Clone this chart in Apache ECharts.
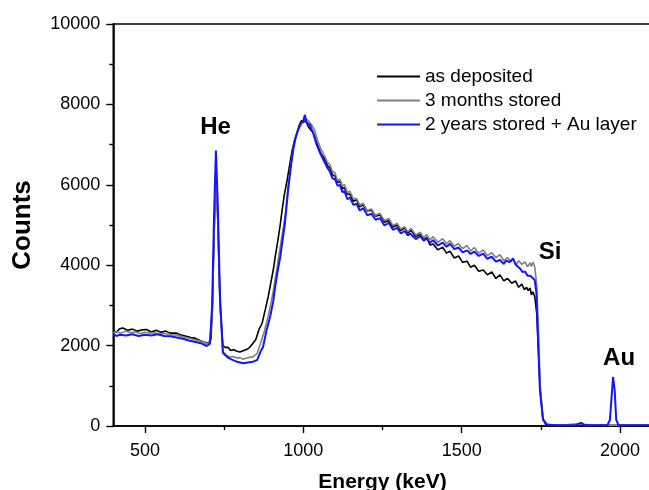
<!DOCTYPE html>
<html><head><meta charset="utf-8">
<script src="https://cdn.jsdelivr.net/npm/echarts@6/dist/echarts.min.js"></script>
<style>html,body{margin:0;padding:0;background:#fff}#c{width:649px;height:490px}</style>
</head><body><div id="c"></div>
<script>
// ---- data ----
const seriesNames = ['as deposited', '3 months stored', '2 years stored + Au layer'];
const xMajorTicks = [500, 1000, 1500, 2000];
const xMinorTicks = [750, 1250, 1750];

const blackE = [400,410,420,430,445,460,475,490,505,520,535,550,565,580,600,615,630,645,660,675,690,700,708,713,718,724,730,737,746,755,762,770,780,790,800,810,820,830,841,850,860,870,880,889,897,905,912,920,927,933,940,949,957,965,972,980,988,995,1000,1008,1015,1025,1031,1042,1053,1060,1068,1076,1084,1092,1100,1108,1116,1123,1130,1139,1147,1158,1168,1178,1189,1202,1215,1228,1242,1256,1270,1283,1296,1308,1320,1330,1340,1355,1369,1380,1390,1400,1410,1425,1440,1452,1463,1477,1490,1503,1517,1528,1540,1554,1568,1581,1595,1608,1621,1633,1645,1658,1670,1680,1690,1698,1705,1710,1716,1720,1725,1731,1737,1742,1748,1756,1765,1800,1870,1877,1885,1900,2100];
const blackC = [2380,2330,2420,2440,2380,2410,2360,2390,2400,2340,2380,2330,2360,2310,2310,2260,2230,2200,2180,2120,2080,2060,2150,2900,4700,6300,5100,3000,2000,1950,1960,1880,1900,1860,1840,1870,1900,1950,2060,2150,2400,2560,2900,3210,3550,3880,4250,4630,5000,5370,5750,6120,6500,6870,7100,7290,7500,7600,7550,7600,7450,7350,7300,7050,6820,6720,6640,6480,
  6420,6250,6220,6060,6080,5900,5930,5760,5770,5590,5630,5450,5500,5350,5370,5220,5250,5070,5110,4950,5000,4860,4930,4800,4870,4710,4770,4630,4690,4500,4530,4380,4450,4300,4350,4180,4230,4070,4100,3950,4000,3850,3880,3760,3830,3670,3760,3610,3670,3550,3610,3450,3530,3390,3450,3370,3430,3260,3340,3200,
  2800,2000,900,200,40,20,40,70,30,15,15];

const grayE = [400,410,425,440,455,470,485,500,515,530,545,560,580,600,620,640,660,680,695,705,712,718,724,730,737,746,755,765,778,790,800,810,825,841,854,865,875,885,895,905,913,920,927,935,942,952,960,968,975,983,990,1000,1008,1015,1025,1035,1045,1055,1068,1076,1084,1092,1100,1108,1116,1123,1130,1139,1147,1158,1168,1178,1189,1202,1215,1228,1242,1256,1270,1283,1296,1308,1320,1330,1340,1355,1369,1380,1390,1400,1410,1425,1440,1452,1463,1477,1490,1503,1517,1528,1540,1554,1568,1581,1595,1608,1621,1633,1645,1655,1662,1672,1680,1690,1700,1708,1716,1720,1725,1731,1737,1743,1748,1757,1770,1800,1870,1877,1885,1900,2100];
const grayC = [2320,2350,2310,2360,2320,2340,2300,2330,2310,2320,2290,2300,2270,2260,2220,2180,2140,2100,2050,2080,2800,4700,6300,5100,3000,1850,1780,1720,1730,1690,1700,1660,1700,1720,1800,2050,2300,2600,2950,3350,3750,4100,4450,4850,5200,5950,6450,6900,7150,7350,7450,7600,7650,7600,7500,7380,7100,6900,6700,6560,
  6500,6330,6300,6100,6140,5960,6010,5810,5840,5650,5660,5500,5540,5360,5400,5240,5290,5110,5160,4990,5040,4900,4960,4830,4920,4750,4820,4690,4760,4630,4710,4570,4660,4530,4610,4470,4540,4410,4490,4350,4440,4300,4380,4240,4310,4190,4260,4110,4190,4090,4160,4010,4110,4020,4080,3960,4060,3970,4080,3950,
  3500,2300,1000,180,40,25,40,60,30,20,20];

const blueE = [400,410,420,440,460,480,500,520,540,560,580,600,620,640,660,680,695,705,712,718,724,730,737,746,762,778,790,800,810,825,841,854,865,873,883,895,905,911,920,927,935,942,952,960,968,975,983,990,1000,1005,1010,1020,1031,1042,1053,1060,1068,1076,1084,1092,1100,1108,1116,1123,1130,1139,1147,1158,1168,1178,1189,1202,1215,1228,1242,1256,1270,1283,1296,1308,1320,1330,1337,1355,1369,1380,1390,1400,1410,1425,1440,1452,1463,1477,1490,1503,1517,1528,1540,1554,1568,1581,1595,1608,1621,1633,1640,1652,1662,1670,1684,1692,1700,1708,1716,1725,1731,1736,1741,1747,1757,1770,1800,1860,1870,1877,1885,1900,1960,1968,1975,1978,1983,1988,1995,2100];
const blueC = [2300,2240,2270,2250,2280,2240,2270,2250,2280,2240,2230,2200,2170,2120,2090,2050,1990,2050,3000,5200,6850,5500,3200,1820,1700,1640,1600,1580,1560,1580,1600,1640,1850,1970,2350,2710,3100,3460,3900,4200,4650,5050,5870,6400,6870,7150,7360,7500,7600,7740,7550,7500,7290,7000,6790,6680,6550,6420,
  6330,6160,6140,5980,5990,5820,5840,5640,5680,5500,5530,5360,5420,5240,5280,5130,5170,4990,5050,4880,4930,4790,4850,4740,4790,4650,4720,4610,4660,4560,4620,4490,4560,4460,4530,4400,4440,4320,4370,4280,4340,4230,4290,4160,4210,4090,4130,4030,4110,4080,4170,4020,3920,3830,3840,3740,3740,3680,
  3620,3300,2140,900,150,30,20,20,60,80,40,20,20,150,900,1220,900,150,20,20];

const annNames = ['He', 'Si', 'Au'];
const annE = [723, 1779, 1997];
const annC = [7440, 4330, 1690];

// ---- chart ----
const font = 'Liberation Sans, Arial, Helvetica, sans-serif';
const chart = echarts.init(document.getElementById('c'), null, {renderer: 'canvas'});
const zip = (a, b) => a.map((v, i) => [v, b[i]]);
const colors = ['#000000', '#808080', '#1414ff'];
const widths = [1.6, 1.6, 2];
const allE = [blackE, grayE, blueE];
const allC = [blackC, grayC, blueC];

const grid = {left: 113.3, top: 24, width: 538.4, height: 402, show: true, borderColor: '#000', borderWidth: 1.6, backgroundColor: '#fff', containLabel: false, outerBoundsMode: 'none'};

const series = seriesNames.map((n, i) => ({
  name: n, type: 'line', xAxisIndex: 0, symbol: 'none', showSymbol: false,
  data: zip(allE[i], allC[i]),
  lineStyle: {color: colors[i], width: widths[i]},
  itemStyle: {color: colors[i]},
  z: 2 + i
}));
series[2].markPoint = {
  symbol: 'circle', symbolSize: 0, silent: true,
  itemStyle: {color: 'rgba(0,0,0,0)'},
  data: annNames.map((nm, i) => ({name: nm, coord: [annE[i], annC[i]]})),
  label: {show: true, position: 'inside', formatter: p => p.name, fontSize: 24, fontWeight: 'bold', color: '#000', fontFamily: font}
};

chart.setOption({
  animation: false,
  backgroundColor: '#fff',
  textStyle: {fontFamily: font},
  grid: grid,
  legend: {
    data: seriesNames,
    orient: 'vertical',
    left: 372, top: 62,
    itemWidth: 43, itemHeight: 14, itemGap: 5,
    textStyle: {fontSize: 19, color: '#000', fontFamily: font},
    icon: 'path://M0,6 L43,6 L43,8 L0,8 Z'
  },
  xAxis: [{
    type: 'value', min: 400, max: 2100,
    name: 'Energy (keV)', nameLocation: 'middle', nameGap: 46,
    nameTextStyle: {fontSize: 21, fontWeight: 'bold', color: '#000', fontFamily: font},
    axisLine: {show: true, onZero: false, lineStyle: {color: '#000', width: 1.6}},
    axisTick: {show: true, inside: false, length: 7, lineStyle: {color: '#000', width: 1.4}, customValues: xMajorTicks},
    axisLabel: {fontSize: 18, color: '#000', margin: 16, customValues: xMajorTicks, formatter: v => String(v), fontFamily: font},
    splitLine: {show: false}
  }, {
    type: 'value', min: 400, max: 2100, position: 'bottom',
    axisLine: {show: false},
    axisTick: {show: true, inside: false, length: 4, lineStyle: {color: '#000', width: 1.4}, customValues: xMinorTicks},
    axisLabel: {show: false},
    splitLine: {show: false}
  }],
  yAxis: {
    type: 'value', min: 0, max: 10000, interval: 2000,
    name: 'Counts', nameLocation: 'middle', nameGap: 77, nameRotate: 90,
    nameTextStyle: {fontSize: 26, fontWeight: 'bold', color: '#000', fontFamily: font},
    axisLine: {show: true, lineStyle: {color: '#000', width: 1.6}},
    axisTick: {show: true, inside: false, length: 7, lineStyle: {color: '#000', width: 1.4}},
    minorTick: {show: true, splitNumber: 2, length: 4, lineStyle: {color: '#000', width: 1.4}},
    axisLabel: {fontSize: 18, color: '#000', margin: 13, formatter: v => String(v), fontFamily: font},
    splitLine: {show: false}
  },
  series: series
});
</script></body></html>
